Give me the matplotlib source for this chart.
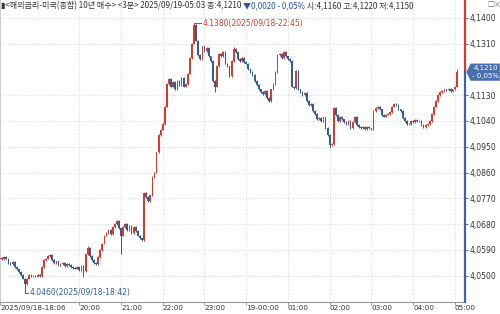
import matplotlib
matplotlib.use("Agg")
import matplotlib.pyplot as plt
from matplotlib.patches import Polygon
import numpy as np

# ── data: 3-minute closes, 2025/09/18 18:06 → 2025/09/19 05:03 ──────────────
closes = [
    4.0562, 4.0558, 4.0565, 4.0560, 4.0545, 4.0540, 4.0548, 4.0530, 4.0522, 4.0512,
    4.0503, 4.0490, 4.0470, 4.0490, 4.0502, 4.0498, 4.0500, 4.0497, 4.0502, 4.0500,
    4.0530, 4.0555, 4.0560, 4.0568, 4.0572, 4.0555, 4.0545, 4.0550, 4.0538, 4.0540,
    4.0545, 4.0535, 4.0542, 4.0538, 4.0530, 4.0528, 4.0525, 4.0530, 4.0520, 4.0535,
    4.0515, 4.0575, 4.0598, 4.0570, 4.0555, 4.0545, 4.0540, 4.0565, 4.0590, 4.0612,
    4.0640, 4.0650, 4.0660, 4.0645, 4.0670, 4.0680, 4.0690, 4.0665, 4.0640, 4.0670,
    4.0680, 4.0660, 4.0675, 4.0650, 4.0670, 4.0655, 4.0640, 4.0630, 4.0625, 4.0790,
    4.0775, 4.0760, 4.0780, 4.0845, 4.0860, 4.0930, 4.0990, 4.1010, 4.1030, 4.1090,
    4.1170, 4.1185, 4.1160, 4.1175, 4.1150, 4.1178, 4.1165, 4.1190, 4.1160, 4.1170,
    4.1205, 4.1260, 4.1310, 4.1375, 4.1320, 4.1270, 4.1255, 4.1300, 4.1285, 4.1295,
    4.1265, 4.1250, 4.1180, 4.1160, 4.1230, 4.1275, 4.1265, 4.1280, 4.1240, 4.1230,
    4.1195, 4.1250, 4.1290, 4.1280, 4.1255, 4.1250, 4.1260, 4.1245, 4.1240, 4.1220,
    4.1210, 4.1200, 4.1180, 4.1165, 4.1150, 4.1140, 4.1135, 4.1145, 4.1120, 4.1110,
    4.1150, 4.1170, 4.1210, 4.1270, 4.1275, 4.1260, 4.1280, 4.1265, 4.1255, 4.1250,
    4.1160, 4.1155, 4.1215, 4.1150, 4.1140, 4.1130, 4.1138, 4.1110, 4.1095, 4.1100,
    4.1075, 4.1065, 4.1045, 4.1050, 4.1040, 4.1052, 4.1015, 4.0990, 4.0955, 4.0960,
    4.1085, 4.1060, 4.1040, 4.1055, 4.1045, 4.1035, 4.1030, 4.1040, 4.1015, 4.1035,
    4.1055, 4.1025, 4.1020, 4.1015, 4.1020, 4.1012, 4.1018, 4.1014, 4.1010, 4.1075,
    4.1085, 4.1090, 4.1080, 4.1060, 4.1055, 4.1062, 4.1065, 4.1070, 4.1090, 4.1100,
    4.1095, 4.1080, 4.1075, 4.1050, 4.1040, 4.1030, 4.1028, 4.1040, 4.1035, 4.1042,
    4.1038, 4.1040, 4.1025, 4.1020, 4.1025, 4.1030, 4.1040, 4.1065, 4.1090, 4.1110,
    4.1130, 4.1140, 4.1145, 4.1150, 4.1148, 4.1152, 4.1145, 4.1150, 4.1160, 4.1210,
]
first_open = 4.0560
# wick extremes that stick out beyond the bodies
wick_highs = {93: 4.1380, 219: 4.1220, 42: 4.0602, 112: 4.1298}
wick_lows = {12: 4.0460, 40: 4.0495, 58: 4.0575, 103: 4.1140, 158: 4.0945}

hour_idx = [0, 38, 58, 78, 98, 118, 138, 158, 178, 198, 218]
hour_labels = ["2025/09/18-18:06", "20:00", "21:00", "22:00", "23:00",
               "19-00:00", "01:00", "02:00", "03:00", "04:00", "05:00"]
price_ticks = [4.0500, 4.0590, 4.0680, 4.0770, 4.0860, 4.0950,
               4.1040, 4.1130, 4.1310, 4.1400]
last_price = 4.1210

# ── colours ────────────────────────────────────────────────────────────────
UP = "#d8392b"
DOWN = "#2f5b9c"
GRID = "#cfcfcf"
TXT = "#333333"
KR = ["Noto Sans CJK KR", "DejaVu Sans"]

c = np.array(closes)
o = np.concatenate([[first_open], c[:-1]])
hi = np.maximum(o, c) + 0.0003
lo = np.minimum(o, c) - 0.0003
for k, v in wick_highs.items():
    hi[k] = v
for k, v in wick_lows.items():
    lo[k] = v
x = np.arange(len(c))
col = np.where(c >= o, UP, DOWN)

fig = plt.figure(figsize=(5, 3.14), dpi=100)
fig.patch.set_facecolor("white")
ax = fig.add_axes([0, 12 / 314, 465 / 500, 302 / 314])
ax.set_xlim(0.0, 222.9)
ax.set_ylim(4.14 - (302 - 17.7) / 2867, 4.14 + 17.7 / 2867)

# grid
for t in price_ticks:
    ax.axhline(t, color=GRID, lw=0.6, ls=(0, (1, 2)), zorder=0)
for t in hour_idx[1:]:
    ax.axvline(t, color=GRID, lw=0.6, ls=(0, (1, 2)), zorder=0)

# candles
ax.vlines(x, lo, hi, colors=col, lw=0.7, zorder=2)
body = np.maximum(np.abs(c - o), 0.00012)
ax.bar(x, body, bottom=np.minimum(o, c), width=0.75, color=col,
       linewidth=0, zorder=3)

# axes styling
ax.yaxis.tick_right()
ax.set_yticks(price_ticks)
ax.set_yticklabels([f"{t:.4f}".replace(".", ",") for t in price_ticks])
ax.tick_params(axis="y", length=2, width=0.6, color="#555555", pad=1,
               labelsize=5.5, labelcolor=TXT)
ax.set_xticks(hour_idx)
ax.set_xticklabels(hour_labels)
for lab in ax.get_xticklabels():
    lab.set_horizontalalignment("left")
ax.tick_params(axis="x", length=2, width=0.6, color="#888888", pad=0.5,
               labelsize=5.2, labelcolor=TXT)
for s in ("top", "right"):
    ax.spines[s].set_visible(False)
ax.spines["left"].set_color("#cccccc")
ax.spines["bottom"].set_color("#999999")
ax.spines["bottom"].set_linewidth(0.8)

# right axis line: red above the last price, blue below
y0, y1 = ax.get_ylim()
frac = (last_price - y0) / (y1 - y0)
ax.plot([1, 1], [frac, 1], transform=ax.transAxes, color=UP, lw=1.6,
        clip_on=False, zorder=5)
ax.plot([1, 1], [0, frac], transform=ax.transAxes, color="#3c64a6", lw=1.6,
        clip_on=False, zorder=5)

# last price box
tr = ax.get_yaxis_transform()
pts = [(1.003, last_price), (1.012, last_price + 0.0030),
       (1.075, last_price + 0.0030), (1.075, last_price - 0.0030),
       (1.012, last_price - 0.0030)]
ax.add_patch(Polygon(pts, closed=True, transform=tr, facecolor="#4a6fae",
                     edgecolor="none", clip_on=False, zorder=6))
ax.text(1.044, last_price + 0.0014, "4,1210", transform=tr, ha="center",
        va="center", fontsize=5.0, color="white", zorder=7)
ax.text(1.044, last_price - 0.0014, "- 0,05%", transform=tr, ha="center",
        va="center", fontsize=5.0, color="white", zorder=7)

# high / low annotations
ax.plot([93, 96.5], [4.1380, 4.1380], color=UP, lw=0.7, zorder=4)
ax.text(97, 4.1380, "4.1380(2025/09/18-22:45)", fontsize=5.5, color=UP,
        va="center", ha="left")
ax.plot([12, 12, 13.5], [4.0460, 4.0441, 4.0441], color=DOWN, lw=0.7, zorder=4)
ax.text(14, 4.0441, "4.0460(2025/09/18-18:42)", fontsize=5.5, color=DOWN,
        va="center", ha="left")

# header line with mixed colours
fig.canvas.draw()
r = fig.canvas.get_renderer()
parts = [("▮<해외금리-미국(종합) 10년 매수> <3분> 2025/09/19-05:03 종:4,1210 ", TXT),
         ("▼0,0020 - 0,05%", "#2a56a6"),
         (" 시:4,1160 고:4,1220 저:4,1150", TXT)]
xpos = 1 / 500
for s, cl in parts:
    t = fig.text(xpos, 1 - 6 / 314, s, fontsize=5.8, color=cl, family=KR,
                 va="center", ha="left")
    bb = t.get_window_extent(renderer=r)
    xpos = bb.x1 / fig.bbox.width
fig.text(487 / 500, 1 - 5 / 314, "□×", fontsize=5, color="#666666",
         va="center", ha="left", family=KR)

fig.savefig("out.png", dpi=100, facecolor="white")
